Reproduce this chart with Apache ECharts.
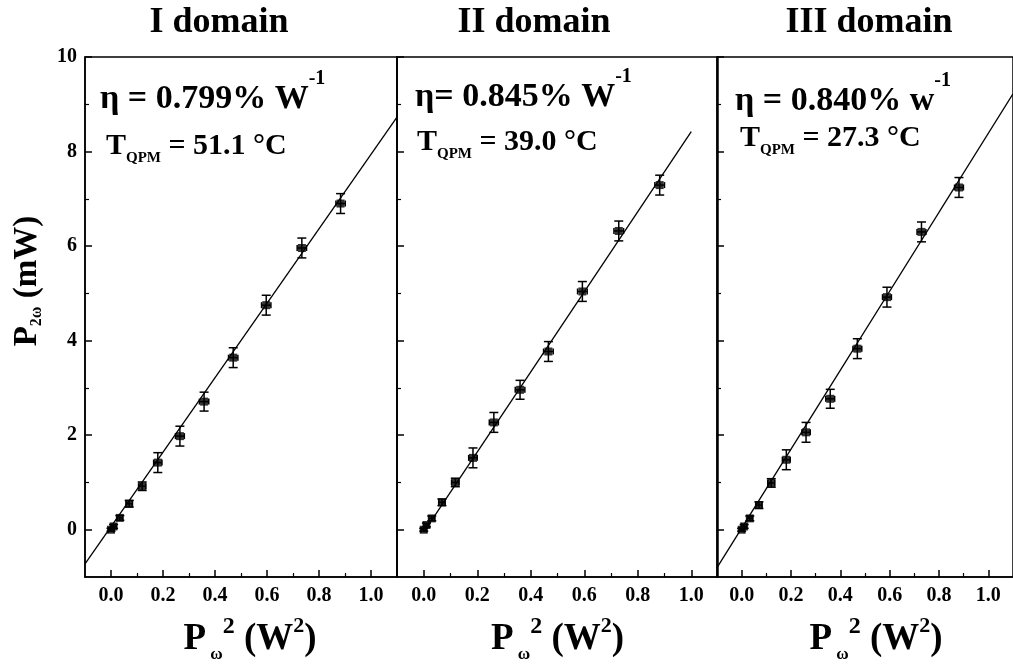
<!DOCTYPE html>
<html>
<head>
<meta charset="utf-8">
<script src="https://cdn.jsdelivr.net/npm/echarts@6/dist/echarts.min.js"></script>
<style>
html,body{margin:0;padding:0;background:#fff;}
#chart{width:1013px;height:670px;}
</style>
</head>
<body>
<div id="chart"></div>
<script>
// ---------- data ----------
const panelTitles = ['I domain', 'II domain', 'III domain'];
const etaTexts = ['η = 0.799% W', 'η= 0.845% W', 'η = 0.840% w'];
const tqpmTexts = [' = 51.1 °C', ' = 39.0 °C', ' = 27.3 °C'];

const x1 = [0.0, 0.01, 0.034, 0.07, 0.12, 0.18, 0.265, 0.358, 0.47, 0.597, 0.734, 0.883];
const y1 = [0.0, 0.07, 0.25, 0.55, 0.92, 1.42, 1.98, 2.71, 3.64, 4.75, 5.96, 6.90];
const x2 = [0.0, 0.01, 0.03, 0.068, 0.118, 0.184, 0.262, 0.36, 0.466, 0.593, 0.729, 0.882];
const y2 = [0.0, 0.10, 0.24, 0.58, 1.00, 1.52, 2.27, 2.96, 3.77, 5.04, 6.32, 7.29];
const x3 = [0.0, 0.01, 0.033, 0.07, 0.12, 0.181, 0.261, 0.359, 0.469, 0.589, 0.729, 0.881];
const y3 = [0.0, 0.07, 0.24, 0.52, 0.99, 1.48, 2.06, 2.77, 3.83, 4.92, 6.30, 7.24];
const yErr = [0.03, 0.04, 0.05, 0.07, 0.09, 0.21, 0.21, 0.20, 0.21, 0.21, 0.21, 0.21];
const xErr = [0.01, 0.01, 0.01, 0.012, 0.014, 0.016, 0.017, 0.018, 0.018, 0.018, 0.018, 0.018];

const fit1 = [[-0.1, -0.72], [1.1, 8.73]];
const fit2 = [[0.0, -0.05], [1.0, 8.42]];
const fit3 = [[-0.1, -0.80], [1.1, 9.22]];

const xMajorTicks = [0, 0.2, 0.4, 0.6, 0.8, 1.0];
const xMinorTicks = [0.1, 0.3, 0.5, 0.7, 0.9];
const yMajorTicks = [0, 2, 4, 6, 8, 10];
const yMinorTicks = [1, 3, 5, 7, 9];

// ---------- chart ----------
const FF = '"Liberation Serif", "Times New Roman", serif';
const panels = [
  {xs: x1, ys: y1, fit: fit1},
  {xs: x2, ys: y2, fit: fit2},
  {xs: x3, ys: y3, fit: fit3}
];
const grids = [
  {left: 85, top: 57, width: 312, height: 520},
  {left: 397, top: 57, width: 321, height: 520},
  {left: 717, top: 57, width: 298, height: 520}
];
const xNameShift = [18, 0, 22];

const xAxes = [], yAxes = [], series = [];
const xNameRich = {
  m: {fontSize: 37, lineHeight: 48, fontWeight: 'bold', fontFamily: FF, color: '#000'},
  sub: {fontSize: 17, lineHeight: 17, fontWeight: 'bold', fontFamily: FF, color: '#000', verticalAlign: 'bottom'},
  sup: {fontSize: 24, lineHeight: 24, fontWeight: 'bold', fontFamily: FF, color: '#000', verticalAlign: 'top'},
  sup2: {fontSize: 22, lineHeight: 22, fontWeight: 'bold', fontFamily: FF, color: '#000', verticalAlign: 'top'}
};

grids.forEach((g, i) => {
  g.show = true;
  g.borderColor = '#000';
  g.borderWidth = 1.5;
  g.backgroundColor = 'transparent';
  xAxes.push({
    type: 'value', gridIndex: i, min: -0.1, max: 1.1, position: 'bottom',
    name: '{m|P}{sub| ω}{sup|2}{m| (W}{sup2|2}{m|)}',
    nameLocation: 'middle', nameGap: 38,
    nameTextStyle: {rich: xNameRich, padding: [0, 0, 0, xNameShift[i]]},
    axisLine: {show: true, onZero: false, lineStyle: {color: '#000', width: 1.5}},
    axisTick: {show: true, inside: true, length: 7, lineStyle: {color: '#000', width: 1.5}, customValues: xMajorTicks},
    axisLabel: {show: true, customValues: xMajorTicks, formatter: v => v.toFixed(1), margin: 9,
      fontFamily: FF, fontWeight: 'bold', fontSize: 20, color: '#000'},
    splitLine: {show: false}
  });
  xAxes.push({
    type: 'value', gridIndex: i, min: -0.1, max: 1.1, position: 'bottom',
    axisLine: {show: false, onZero: false},
    axisTick: {show: true, inside: true, length: 4, lineStyle: {color: '#000', width: 1.2}, customValues: xMinorTicks},
    axisLabel: {show: false, customValues: xMinorTicks},
    splitLine: {show: false}
  });
  yAxes.push({
    type: 'value', gridIndex: i, min: -1, max: 10, position: 'left',
    axisLine: {show: true, onZero: false, lineStyle: {color: '#000', width: 1.5}},
    axisTick: {show: true, inside: true, length: 7, lineStyle: {color: '#000', width: 1.5}, customValues: yMajorTicks},
    axisLabel: {show: i === 0, customValues: yMajorTicks, margin: 8,
      fontFamily: FF, fontWeight: 'bold', fontSize: 20, color: '#000'},
    splitLine: {show: false}
  });
  yAxes.push({
    type: 'value', gridIndex: i, min: -1, max: 10, position: 'left',
    axisLine: {show: false, onZero: false},
    axisTick: {show: true, inside: true, length: 4, lineStyle: {color: '#000', width: 1.2}, customValues: yMinorTicks},
    axisLabel: {show: false, customValues: yMinorTicks},
    splitLine: {show: false}
  });

  const p = panels[i];
  series.push({
    type: 'line', xAxisIndex: 2 * i, yAxisIndex: 2 * i, data: p.fit,
    symbol: 'none', lineStyle: {color: '#000', width: 1.3}, clip: true, silent: true, z: 2
  });
  series.push({
    type: 'custom', xAxisIndex: 2 * i, yAxisIndex: 2 * i,
    data: p.xs.map((x, k) => [x, p.ys[k], yErr[k], xErr[k]]),
    renderItem: function (params, api) {
      const x = api.value(0), y = api.value(1), ey = api.value(2), ex = api.value(3);
      const t = api.coord([x, y + ey]), b = api.coord([x, y - ey]);
      const l = api.coord([x - ex, y]), r = api.coord([x + ex, y]);
      const st = {stroke: '#000', lineWidth: 1.5};
      const cw = 4.5, ch = 3;
      return {type: 'group', children: [
        {type: 'line', shape: {x1: t[0], y1: t[1], x2: b[0], y2: b[1]}, style: st},
        {type: 'line', shape: {x1: t[0] - cw, y1: t[1], x2: t[0] + cw, y2: t[1]}, style: st},
        {type: 'line', shape: {x1: b[0] - cw, y1: b[1], x2: b[0] + cw, y2: b[1]}, style: st},
        {type: 'line', shape: {x1: l[0], y1: l[1], x2: r[0], y2: r[1]}, style: st},
        {type: 'line', shape: {x1: l[0], y1: l[1] - ch, x2: l[0], y2: l[1] + ch}, style: st},
        {type: 'line', shape: {x1: r[0], y1: r[1] - ch, x2: r[0], y2: r[1] + ch}, style: st}
      ]};
    },
    silent: true, z: 3
  });
  series.push({
    type: 'scatter', xAxisIndex: 2 * i, yAxisIndex: 2 * i,
    data: p.xs.map((x, k) => [x, p.ys[k]]),
    symbol: 'rect', symbolSize: 8, itemStyle: {color: '#000'}, silent: true, z: 4
  });
});

function richText(x, y, text, rich) {
  return {type: 'text', x: x, y: y, z: 100,
    style: {text: text, rich: rich, align: 'left', verticalAlign: 'middle', fill: '#000'}};
}
const etaRich = {
  m: {fontSize: 34, lineHeight: 60, fontWeight: 'bold', fontFamily: FF, fill: '#000'},
  s: {fontSize: 20, lineHeight: 20, fontWeight: 'bold', fontFamily: FF, fill: '#000', verticalAlign: 'top'}
};
const tRich = {
  m: {fontSize: 30, lineHeight: 40, fontWeight: 'bold', fontFamily: FF, fill: '#000'},
  s: {fontSize: 15, lineHeight: 16, fontWeight: 'bold', fontFamily: FF, fill: '#000', verticalAlign: 'bottom'}
};
const titleX = [219, 534, 869];
const etaPos = [[100, 99], [415, 97], [735, 101]];
const tPos = [[106, 146], [417, 142], [740, 138]];
const graphic = [];
panelTitles.forEach((t, i) => {
  graphic.push({type: 'text', x: titleX[i], y: 23, z: 100,
    style: {text: t, fontSize: 36, fontWeight: 'bold', fontFamily: FF, fill: '#000', align: 'center', verticalAlign: 'middle'}});
  graphic.push(richText(etaPos[i][0], etaPos[i][1], '{m|' + etaTexts[i] + '}{s|-1}', etaRich));
  graphic.push(richText(tPos[i][0], tPos[i][1], '{m|T}{s|QPM}{m|' + tqpmTexts[i] + '}', tRich));
});
graphic.push({type: 'text', x: 27, y: 281, rotation: Math.PI / 2, z: 100,
  style: {text: '{m|P}{s|2ω}{m| (mW)}', align: 'center', verticalAlign: 'middle', fill: '#000',
    rich: {
      m: {fontSize: 33, lineHeight: 36, fontWeight: 'bold', fontFamily: FF, fill: '#000'},
      s: {fontSize: 16, lineHeight: 18, fontWeight: 'bold', fontFamily: FF, fill: '#000', verticalAlign: 'bottom'}
    }}});

const chart = echarts.init(document.getElementById('chart'), null, {renderer: 'canvas'});
chart.setOption({
  backgroundColor: '#fff',
  animation: false,
  grid: grids,
  xAxis: xAxes,
  yAxis: yAxes,
  series: series,
  graphic: graphic
});
</script>
</body>
</html>
